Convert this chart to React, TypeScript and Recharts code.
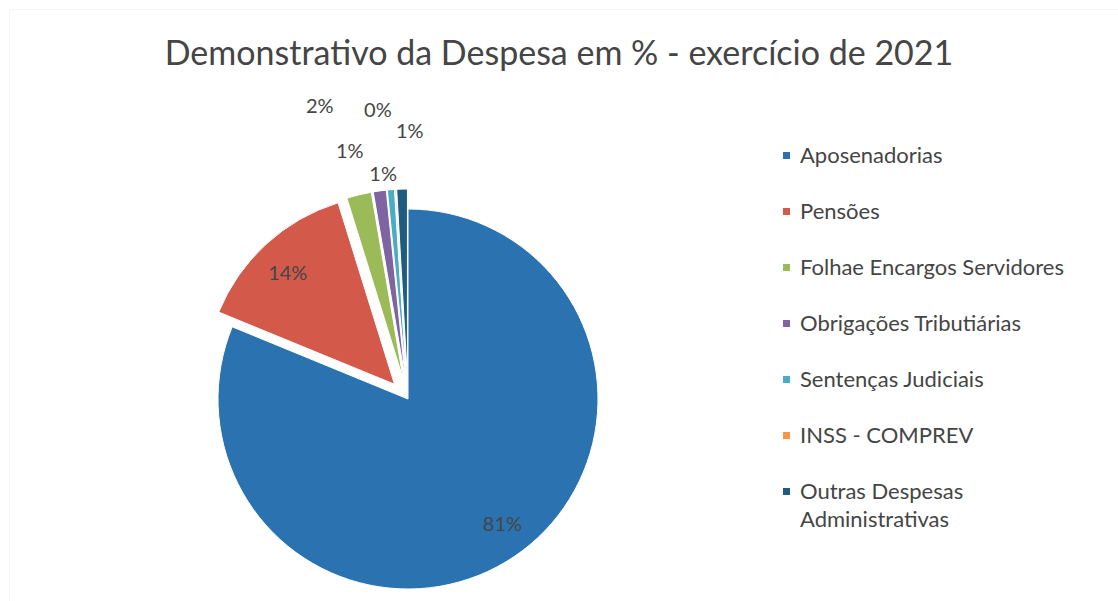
import { PieChart, Pie, Cell, Legend, Sector } from 'recharts'

const CATEGORIES = [
  'Aposenadorias',
  'Pensões',
  'Folhae Encargos Servidores',
  'Obrigações Tributiárias',
  'Sentenças Judiciais',
  'INSS - COMPREV',
  'Outras Despesas Administrativas',
]
const PERCENTS = [81.2, 14.0, 2.1, 1.1, 0.6, 0.1, 0.9]
const COLORS = ['#2B73B0', '#D35A4B', '#9BBB59', '#8064A2', '#4BACC6', '#F79646', '#1F5C7D']

// label placement from the pie centre (radius in px, angle tweak in deg)
const LABEL_POS: { r: number, dA: number }[] = [
  { r: 156, dA: 3.4 },
  { r: 175, dA: 0.9 },
  { r: 307, dA: 3.2 },
  { r: 256, dA: 5.4 },
  { r: 227, dA: 1.6 },
  { r: 292, dA: 2.5 },
  { r: 269, dA: -2 },
]

const RAD = Math.PI / 180
const EXPLODE = 20
const FONT = 'Lato, "Open Sans", sans-serif'
const TEXT = '#454545'

const data = CATEGORIES.map((name, i) => ({ name, value: PERCENTS[i] }))

function ExplodedSector(props: any) {
  const { cx, cy, midAngle } = props
  const off = props.name === CATEGORIES[0] || props.payload?.name === CATEGORIES[0] ? 0 : EXPLODE
  const dx = off * Math.cos(-midAngle * RAD)
  const dy = off * Math.sin(-midAngle * RAD)
  return <Sector {...props} cx={cx + dx} cy={cy + dy} />
}

function renderLabel(props: any) {
  const { cx, cy, midAngle, percent, index } = props
  const pos = LABEL_POS[index]
  const a = (midAngle + pos.dA) * RAD
  const x = cx + pos.r * Math.cos(-a)
  const y = cy + pos.r * Math.sin(-a)
  return (
    <text x={x} y={y} fill={TEXT} fontSize={20} fontFamily={FONT} textAnchor="middle" dominantBaseline="central">
      {`${Math.round(percent * 100)}%`}
    </text>
  )
}

function renderLegend(props: any) {
  const { payload } = props
  return (
    <div style={{ fontFamily: FONT, fontSize: 22, color: TEXT }}>
      {payload.map((p: any) => (
        <div key={p.value} style={{ display: 'flex', alignItems: 'flex-start', lineHeight: '28px', marginBottom: 28 }}>
          <span style={{ width: 7, height: 7, background: p.color, marginTop: 11, marginRight: 10, flexShrink: 0 }} />
          <span style={{ width: 285 }}>{p.value}</span>
        </div>
      ))}
    </div>
  )
}

export default function App() {
  return (
    <div style={{ width: 1118, height: 601, background: '#fff', position: 'relative', overflow: 'hidden' }}>
      <style>{'body{margin:0}'}</style>
      <div
        style={{
          position: 'absolute', left: 9, top: 9, width: 1200, height: 700,
          borderTop: '1px solid #f4f6f9', borderLeft: '1px solid #f4f6f9',
        }}
      />
      <div
        style={{
          position: 'absolute', left: 0, right: 0, top: 31, textAlign: 'center',
          fontFamily: FONT, fontSize: 34, color: TEXT, lineHeight: '42px',
        }}
      >
        Demonstrativo da Despesa em % - exercício de 2021
      </div>
      <PieChart width={1118} height={601} margin={{ top: 0, right: 0, bottom: 0, left: 0 }}>
        <Pie
          data={data}
          dataKey="value"
          nameKey="name"
          cx={408}
          cy={399}
          outerRadius={190}
          startAngle={90}
          endAngle={-270}
          stroke="#fff"
          strokeWidth={1}
          shape={ExplodedSector}
          label={renderLabel}
          labelLine={false}
          isAnimationActive={false}
        >
          {data.map((d, i) => (
            <Cell key={d.name} fill={COLORS[i]} />
          ))}
        </Pie>
        <Legend
          layout="vertical"
          itemSorter={null}
          content={renderLegend}
          wrapperStyle={{ left: 783, top: 141, width: 330 }}
        />
      </PieChart>
    </div>
  )
}
